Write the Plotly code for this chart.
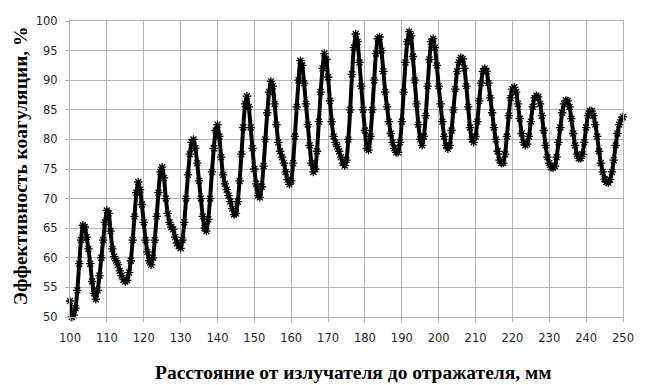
import plotly.graph_objects as go

# Sample grid (mm): start and step of the measured points
X_START = 100.0
X_STEP = 0.5

# Coagulation efficiency, % (rows of 5 mm)
efficiency = [
    52.7, 50.0, 50.3, 51.5, 54.5, 59, 63, 65.5, 65.2, 63.5,      # 100
    61.5, 59, 56, 54, 53, 54.5, 57, 60, 63, 66,                  # 105
    68, 67.5, 64.5, 61.5, 60.2, 59.5, 58.8, 57.8, 57, 56.3,      # 110
    56, 56.2, 57.5, 59.5, 63, 67, 71, 72.8, 71.5, 69,            # 115
    66, 63, 61, 59.5, 58.8, 60, 63, 67, 71, 74.5,                # 120
    75.3, 73.5, 70, 67.5, 66, 65.2, 64.8, 63.5, 62.5, 62,        # 125
    61.6, 63, 66, 70, 74, 77.5, 79.5, 80, 78.5, 76,              # 130
    73, 70, 67, 65, 64.5, 66.5, 70, 74.5, 78.5, 81.5,            # 135
    82.5, 80.5, 77, 74, 72.5, 71.5, 70.5, 69.5, 68.3, 67.3,      # 140
    67.5, 69.5, 73, 77.5, 82, 86, 87.3, 85.5, 82, 78.5,          # 145
    75, 72.5, 70.5, 70.2, 72, 75.5, 80, 84.5, 88, 89.8,          # 150
    89, 86, 82.5, 79.5, 78, 77, 76, 74.5, 73.2, 72.4,            # 155
    73, 76, 80.5, 85.5, 90, 93.3, 92.5, 89.5, 86, 82.5,          # 160
    79, 76, 74.5, 75, 78, 83, 88, 92, 94.5, 93.5,                # 165
    90.5, 86.5, 83, 80.5, 79.5, 78.8, 78, 77, 76, 75.6,          # 170
    76.5, 80, 85, 91, 95.5, 97.8, 96.5, 93, 89, 85,              # 175
    81.5, 78.5, 78.2, 80.5, 85, 90, 94.5, 97, 97.3, 95,          # 180
    91.5, 88, 85.5, 83, 81, 79.5, 78.5, 77.8, 77.8, 79.5,        # 185
    83, 88, 93, 96.5, 98.2, 97.5, 94, 90, 86, 82.5,              # 190
    80, 79, 80.5, 84, 89, 93.5, 96.5, 97, 95.5, 92.5,            # 195
    89, 86, 83, 80.5, 79, 78.4, 79, 81.5, 85, 88.5,              # 200
    91.5, 93, 93.8, 93.6, 92, 89, 85.5, 82, 80, 79.5,            # 205
    80.5, 83, 86.5, 89.5, 91.5, 92, 91.5, 89.5, 87, 84.5,        # 210
    82, 80, 78, 76.5, 76, 76, 77.5, 80.5, 84, 87,                # 215
    88.5, 88.8, 88, 86, 83.5, 81, 79.5, 79, 79.2, 80.5,          # 220
    83, 85.5, 87, 87.4, 87.2, 86, 84, 81.5, 79, 77,              # 225
    76, 75.3, 75.2, 75.5, 77, 79.5, 82, 84.5, 86, 86.6,          # 230
    86.5, 85.5, 83.5, 81, 79, 77.5, 76.8, 76.8, 77.5, 79.5,      # 235
    82, 84, 84.8, 84.8, 84, 82.5, 80.5, 78, 76, 74.5,            # 240
    73.3, 72.8, 72.7, 73.2, 74.5, 76.5, 79, 81, 82.5, 83.3,      # 245
    83.8,                                                        # 250
]
distance = [X_START + X_STEP * i for i in range(len(efficiency))]

x_ticks = [100, 110, 120, 130, 140, 150, 160, 170, 180, 190, 200, 210, 220, 230, 240, 250]
y_ticks = [50, 55, 60, 65, 70, 75, 80, 85, 90, 95, 100]

x_title = "Расстояние от излучателя до отражателя, мм"
y_title = "Эффективность коагуляции, %"

fig = go.Figure()
fig.add_trace(go.Scatter(
    x=distance, y=efficiency, mode="lines+markers",
    line=dict(color="black", width=4, shape="spline", smoothing=0.6),
    marker=dict(symbol="asterisk-open", size=7, color="black",
                line=dict(color="black", width=1.3)),
    showlegend=False, cliponaxis=False,
))

axis_common = dict(
    showgrid=True, gridcolor="#b3b3b3", gridwidth=1,
    showline=True, linecolor="#b3b3b3", linewidth=1, mirror=True,
    ticks="outside", ticklen=4, tickcolor="#b3b3b3",
    tickfont=dict(family="DejaVu Sans", size=11.5, color="#262626"),
    zeroline=False, ticklabeloverflow="allow",
)

# The page body adds an 8 px offset, so the figure is 8 px smaller on each side
fig.update_layout(
    width=637, height=377,
    margin=dict(l=62, r=22, t=6, b=68),
    paper_bgcolor="white", plot_bgcolor="white",
    xaxis=dict(range=[100, 250], tickvals=x_ticks, ticklabelstandoff=6, **axis_common),
    yaxis=dict(range=[50, 100], tickvals=y_ticks, ticklabelstandoff=5, **axis_common),
    annotations=[
        dict(text="<b>" + x_title + "</b>", xref="paper", yref="paper",
             x=0.512, y=-0.188, xanchor="center", yanchor="middle", showarrow=False,
             font=dict(family="Liberation Serif", size=19.5, color="black")),
        dict(text="<b>" + y_title + "</b>", xref="paper", yref="paper",
             x=-0.090, y=0.51, xanchor="center", yanchor="middle", showarrow=False,
             textangle=-90,
             font=dict(family="Liberation Serif", size=19.5, color="black")),
    ],
)

fig.write_html("out.html")
